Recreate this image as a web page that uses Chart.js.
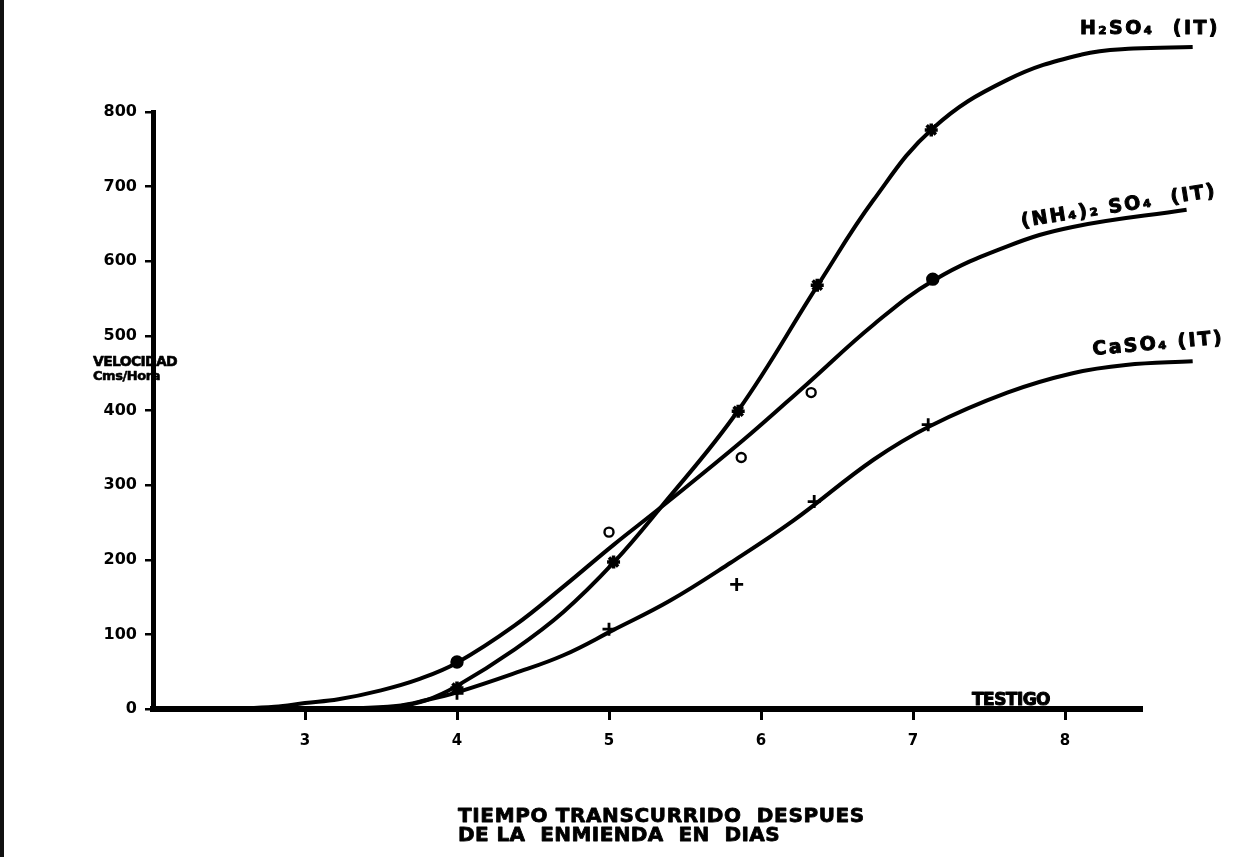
<!DOCTYPE html>
<html>
<head>
<meta charset="utf-8">
<script src="https://cdn.jsdelivr.net/npm/chart.js@4.4.1/dist/chart.umd.min.js"></script>
<style>
  html, body { margin: 0; padding: 0; background: #fff; }
  #wrap { position: relative; width: 1238px; height: 857px; overflow: hidden; }
  #edge { position: absolute; left: 0; top: 0; width: 4px; height: 857px; background: #111; }
  canvas { display: block; }
</style>
</head>
<body>
<div id="wrap">
  <canvas id="c" width="1238" height="857"></canvas>
  <div id="edge"></div>
</div>
<script>
// Axis ticks
const xTicks = [3, 4, 5, 6, 7, 8];
const yTicks = [0, 100, 200, 300, 400, 500, 600, 700, 800];

// Measured infiltration rates (days after amendment, cm/hour)
const h2so4Days  = [4.0, 5.03, 5.85, 6.37, 7.12];
const h2so4Vel   = [28, 197, 399, 568, 776];
const nh4Days    = [4.0, 5.0, 5.87, 6.33, 7.13];
const nh4Vel     = [63, 237, 337, 424, 576];
const caso4Days  = [4.0, 5.0, 5.84, 6.35, 7.1];
const caso4Vel   = [21, 107, 167, 278, 381];

// Hand-fitted trend curves
const h2so4CurveDays = [3.2, 3.6, 3.8, 4.0, 4.38, 4.7, 5.03, 5.34, 5.85, 6.38, 6.74, 7.13, 7.62, 8.11, 8.45, 8.84];
const h2so4CurveVel  = [0, 3, 12, 31, 80, 130, 196, 270, 400, 570, 682, 778, 843, 877, 885, 887];
const nh4CurveDays   = [2.5, 2.8, 3.0, 3.22, 3.5, 3.75, 4.0, 4.38, 4.7, 5.03, 5.34, 5.87, 6.3, 6.74, 7.14, 7.62, 8.05, 8.8];
const nh4CurveVel    = [0, 3, 8, 13, 25, 40, 62, 112, 164, 220, 270, 358, 435, 515, 575, 620, 646, 669];
const caso4CurveDays = [3.2, 3.6, 3.8, 4.01, 4.38, 4.7, 5.03, 5.4, 5.8, 6.21, 6.74, 7.11, 7.62, 8.05, 8.4, 8.84];
const caso4CurveVel  = [0, 4, 12, 23, 48, 72, 106, 145, 196, 252, 334, 379, 424, 450, 461, 466];

// Untreated control stays at zero
const testigoDays = [2.0, 8.5];
const testigoVel  = [0, 0];

const pts = (xs, ys) => xs.map((x, i) => ({ x: x, y: ys[i] }));

const curveStyle = {
  showLine: true, pointRadius: 0, borderColor: '#000', borderWidth: 4,
  tension: 0.4, clip: false, order: 2
};
const markStyle = { showLine: false, clip: false, order: 0, borderColor: '#000' };

const FONT = '"DejaVu Sans", "Liberation Sans", sans-serif';

// Heavy lettering stretched to a given width through letter spacing
function spacedText(ctx, text, x, y, width, font, angleDeg, weight) {
  ctx.save();
  ctx.font = font;
  ctx.fillStyle = '#000';
  ctx.strokeStyle = '#000';
  ctx.lineJoin = 'round';
  ctx.lineWidth = weight || 0;
  ctx.textAlign = 'left';
  ctx.textBaseline = 'alphabetic';
  ctx.translate(x, y);
  if (angleDeg) ctx.rotate(angleDeg * Math.PI / 180);
  const n = [...text].length;
  if ('letterSpacing' in ctx) {
    ctx.letterSpacing = '0px';
    const m = ctx.measureText(text).width;
    ctx.letterSpacing = ((width - m) / n).toFixed(2) + 'px';
  } else {
    const m = ctx.measureText(text).width;
    ctx.scale(width / m, 1);
  }
  ctx.fillText(text, 0, 0);
  if (weight) ctx.strokeText(text, 0, 0);
  ctx.restore();
}

const annotations = {
  id: 'annotations',
  afterDraw(chart) {
    const ctx = chart.ctx;
    // curve labels
    spacedText(ctx, 'H\u2082SO\u2084  (IT)', 1080, 34, 140, 'bold 19px ' + FONT, 0, 1);
    spacedText(ctx, '(NH\u2084)\u2082 SO\u2084  (IT)', 1022, 227, 198, 'bold 19px ' + FONT, -9, 1);
    spacedText(ctx, 'CaSO\u2084 (IT)', 1093, 355, 132, 'bold 19px ' + FONT, -5, 1);
    spacedText(ctx, 'TESTIGO', 972, 705, 78, 'bold 17px ' + FONT, 0, 1);
    // axis titles
    spacedText(ctx, 'VELOCIDAD', 93, 366, 84, 'bold 14px ' + FONT, 0, 0.6);
    spacedText(ctx, 'Cms/Hora', 93, 380, 67, 'bold 13px ' + FONT, 0, 0.6);
    spacedText(ctx, 'TIEMPO TRANSCURRIDO  DESPUES', 458, 822, 407, 'bold 20px ' + FONT, 0, 0.8);
    spacedText(ctx, 'DE LA  ENMIENDA  EN  DIAS', 458, 841, 322, 'bold 20px ' + FONT, 0, 0.8);
  }
};

new Chart(document.getElementById('c'), {
  type: 'line',
  data: {
    datasets: [
      Object.assign({ label: 'H2SO4 curva', data: pts(h2so4CurveDays, h2so4CurveVel) }, curveStyle),
      Object.assign({ label: '(NH4)2SO4 curva', data: pts(nh4CurveDays, nh4CurveVel) }, curveStyle),
      Object.assign({ label: 'CaSO4 curva', data: pts(caso4CurveDays, caso4CurveVel) }, curveStyle),
      { label: 'Testigo', data: pts(testigoDays, testigoVel), showLine: true, pointRadius: 0,
        borderColor: '#000', borderWidth: 3, tension: 0, clip: false, order: 3 },
      Object.assign({ label: 'H2SO4', data: pts(h2so4Days, h2so4Vel),
        pointStyle: 'star', pointRadius: 6.5, pointBorderWidth: 3.5, backgroundColor: '#000' }, markStyle),
      Object.assign({ label: '(NH4)2SO4', data: pts(nh4Days, nh4Vel),
        pointStyle: 'circle', pointRadius: [5.5, 4.5, 4.5, 4.5, 5.5], pointBorderWidth: 2.4,
        pointBackgroundColor: ['#000', '#fff', '#fff', '#fff', '#000'] }, markStyle),
      Object.assign({ label: 'CaSO4', data: pts(caso4Days, caso4Vel),
        pointStyle: 'cross', pointRadius: 6.5, pointBorderWidth: 2.8 }, markStyle)
    ]
  },
  options: {
    responsive: false,
    devicePixelRatio: 1,
    animation: false,
    layout: { padding: { left: 0, right: 97, top: 112, bottom: 98 } },
    plugins: { legend: { display: false }, tooltip: { enabled: false }, title: { display: false } },
    scales: {
      x: {
        type: 'linear', min: 2, max: 8.5,
        afterBuildTicks: s => { s.ticks = xTicks.map(v => ({ value: v })); },
        afterFit: s => { s.height = 50; },
        border: { display: true, color: '#000', width: 6 },
        grid: { drawOnChartArea: false, drawTicks: true, tickLength: 11, color: '#000', lineWidth: 3 },
        ticks: { color: '#000', font: { family: FONT, weight: 'bold', size: 15 }, padding: 12,
                 maxRotation: 0, autoSkip: false }
      },
      y: {
        type: 'linear', min: 0, max: 800,
        afterBuildTicks: s => { s.ticks = yTicks.map(v => ({ value: v })); },
        afterFit: s => { s.width = 153; },
        border: { display: true, color: '#000', width: 5 },
        grid: { drawOnChartArea: false, drawTicks: true, tickLength: 8, color: '#000', lineWidth: 2.5 },
        ticks: { color: '#000', font: { family: FONT, weight: 'bold', size: 16 }, padding: 8,
                 autoSkip: false, callback: v => String(v) }
      }
    }
  },
  plugins: [annotations]
});
</script>
</body>
</html>
